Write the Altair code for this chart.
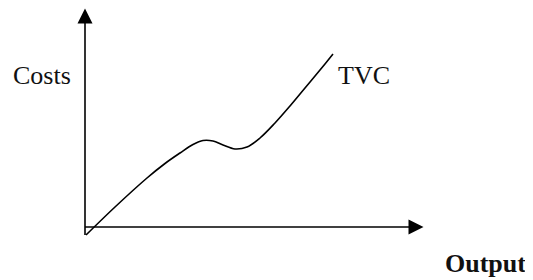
import altair as alt
import pandas as pd

# TVC curve (output, cost)
output_vals = [1, 30, 62, 80, 95, 108, 118, 128, 138, 150, 162, 175, 190, 205, 220, 235, 248]
cost_vals = [-8, 20, 49, 63.5, 74, 82.5, 86.5, 86, 82, 78, 80, 89, 104, 121, 139, 157, 173]

# axis extents (data units)
x_axis_end = 326
y_axis_end = 206
axis_low = -8
arrow_x_center = 331
arrow_y_center = 211

labels = ["Costs", "TVC", "Output"]
label_x = [-72, 253, 360]
label_y = [143, 143, -45]

X_DOMAIN = [-77, 440]
Y_DOMAIN = [-53, 219]

xs = alt.Scale(domain=X_DOMAIN, nice=False, zero=False)
ys = alt.Scale(domain=Y_DOMAIN, nice=False, zero=False)

curve_df = pd.DataFrame({"q": output_vals, "c": cost_vals})
curve = alt.Chart(curve_df).mark_line(color="black", strokeWidth=1.6, interpolate="catmull-rom").encode(
    x=alt.X("q:Q", scale=xs, axis=None),
    y=alt.Y("c:Q", scale=ys, axis=None),
)

yaxis_df = pd.DataFrame({"x": [0], "y": [axis_low], "y2": [y_axis_end]})
yaxis = alt.Chart(yaxis_df).mark_rule(color="black", strokeWidth=1.6).encode(
    x=alt.X("x:Q", scale=xs, axis=None),
    y=alt.Y("y:Q", scale=ys, axis=None),
    y2="y2:Q",
)

xaxis_df = pd.DataFrame({"x": [0], "x2": [x_axis_end], "y": [0]})
xaxis = alt.Chart(xaxis_df).mark_rule(color="black", strokeWidth=1.6).encode(
    x=alt.X("x:Q", scale=xs, axis=None),
    x2="x2:Q",
    y=alt.Y("y:Q", scale=ys, axis=None),
)

up_df = pd.DataFrame({"x": [0], "y": [arrow_y_center]})
up_arrow = alt.Chart(up_df).mark_point(
    shape="M0,-1L-1,1L1,1Z", filled=True, color="black", opacity=1, size=225
).encode(x=alt.X("x:Q", scale=xs, axis=None), y=alt.Y("y:Q", scale=ys, axis=None))

right_df = pd.DataFrame({"x": [arrow_x_center], "y": [0]})
right_arrow = alt.Chart(right_df).mark_point(
    shape="M1,0L-1,-1L-1,1Z", filled=True, color="black", opacity=1, size=225
).encode(x=alt.X("x:Q", scale=xs, axis=None), y=alt.Y("y:Q", scale=ys, axis=None))

lab_df = pd.DataFrame({"t": labels[:2], "x": label_x[:2], "y": label_y[:2]})
texts = alt.Chart(lab_df).mark_text(
    font="Liberation Serif", fontSize=26, align="left", baseline="alphabetic", color="#111"
).encode(x=alt.X("x:Q", scale=xs, axis=None), y=alt.Y("y:Q", scale=ys, axis=None), text="t:N")

out_df = pd.DataFrame({"t": [labels[2]], "x": [label_x[2]], "y": [label_y[2]]})
out_text = alt.Chart(out_df).mark_text(
    font="Liberation Serif", fontSize=26, fontWeight="bold", align="left", baseline="alphabetic", color="#111"
).encode(x=alt.X("x:Q", scale=xs, axis=None), y=alt.Y("y:Q", scale=ys, axis=None), text="t:N")

chart = alt.layer(yaxis, xaxis, curve, up_arrow, right_arrow, texts, out_text).properties(
    width=517, height=272, autosize=alt.AutoSizeParams(type="none"), padding=0
).configure_view(stroke=None)

chart.save("out.html", embed_options={"renderer": "svg", "actions": False})
